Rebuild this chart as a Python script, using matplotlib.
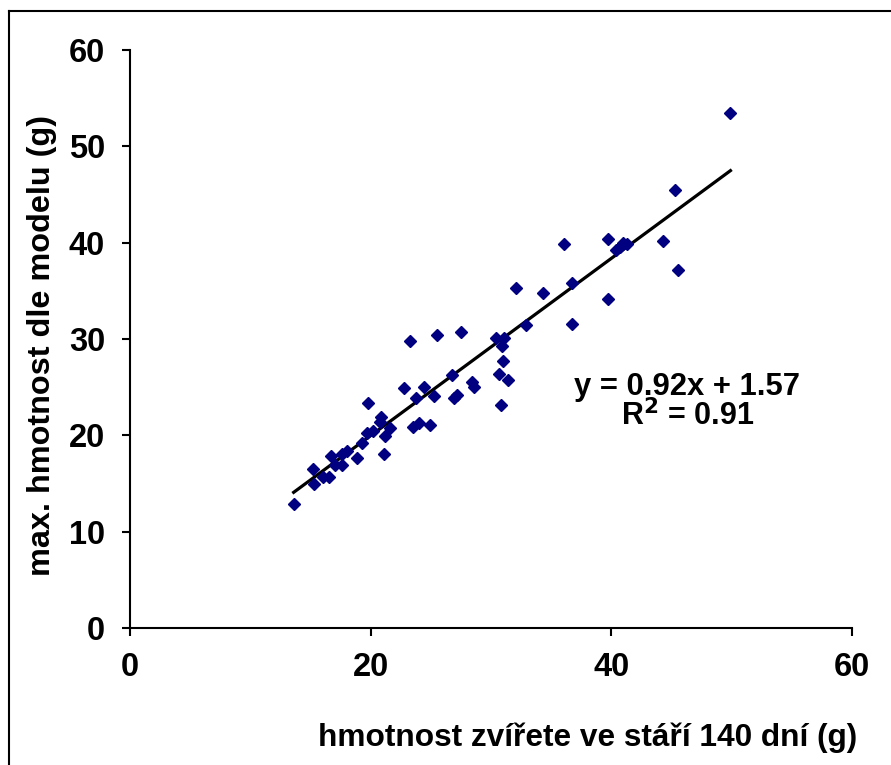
import numpy as np
import matplotlib
matplotlib.use("Agg")
import matplotlib.pyplot as plt
from matplotlib.lines import Line2D

plt.rcParams["font.family"] = ["Liberation Sans", "DejaVu Sans"]
plt.rcParams["font.weight"] = "bold"

# weight at 140 days (x) vs model max weight (y)
weight_140 = [
    13.6, 15.2, 15.3, 16.0, 16.5, 16.7, 17.0, 17.6, 17.6, 18.0,
    18.9, 19.3, 19.7, 20.2, 19.8, 20.9, 20.8, 21.2, 21.6, 21.1,
    22.8, 24.4, 23.8, 25.3, 23.5, 24.0, 24.9, 23.3, 25.5, 27.5,
    26.8, 28.4, 28.6, 26.9, 27.2, 30.4, 31.1, 30.9, 31.0, 30.7,
    31.4, 30.8, 32.9, 32.1, 34.3, 36.1, 36.7, 36.7, 39.7, 39.7,
    40.4, 40.7, 41.0, 41.3, 44.3, 45.5, 45.3, 49.9,
]
model_max = [
    12.9, 16.5, 14.9, 15.7, 15.7, 17.9, 16.9, 18.1, 16.9, 18.4,
    17.6, 19.2, 20.2, 20.4, 23.4, 21.9, 21.4, 19.9, 20.8, 18.1,
    24.9, 25.0, 23.9, 24.1, 20.9, 21.3, 21.1, 29.8, 30.4, 30.7,
    26.3, 25.5, 25.0, 23.9, 24.2, 30.1, 30.1, 29.3, 27.7, 26.4,
    25.7, 23.2, 31.5, 35.3, 34.8, 39.9, 35.8, 31.6, 40.4, 34.2,
    39.2, 39.6, 40.0, 39.9, 40.2, 37.2, 45.5, 53.5,
]

SLOPE = 0.92
INTERCEPT = 1.57
R2 = 0.91

x_ticks = [0, 20, 40, 60]
y_ticks = [0, 10, 20, 30, 40, 50, 60]

fig = plt.figure(figsize=(8.91, 7.65), dpi=100)
ax = fig.add_axes([130 / 891, 1 - 628 / 765, 722 / 891, 578 / 765])

ax.plot(weight_140, model_max, linestyle="none", marker="D",
        markersize=6, color="#000080", zorder=3)

x_fit = np.array([min(weight_140), max(weight_140)])
ax.plot(x_fit, SLOPE * x_fit + INTERCEPT, color="black", linewidth=2.3, zorder=2)

ax.set_xlim(0, 60)
ax.set_ylim(0, 60)
ax.set_xticks(x_ticks)
ax.set_yticks(y_ticks)
ax.tick_params(direction="out", length=6, width=1.5, labelsize=23.5)
ax.tick_params(axis="x", pad=11)
ax.tick_params(axis="y", pad=12)
for lab in ax.get_xticklabels() + ax.get_yticklabels():
    lab.set_fontweight("bold")

for side in ["top", "right"]:
    ax.spines[side].set_visible(False)
for side in ["left", "bottom"]:
    ax.spines[side].set_linewidth(1.5)

ax.text(0.772, 0.417, f"y = {SLOPE:.2f}x + {INTERCEPT:.2f}", transform=ax.transAxes,
        ha="center", va="center", fontsize=22.3, fontweight="bold")
ax.text(0.772, 0.366, f"R$^\\mathbf{{2}}$ = {R2:.2f}", transform=ax.transAxes,
        ha="center", va="center", fontsize=22, fontweight="bold")

fig.text(588 / 891, 1 - 738 / 765, "hmotnost zvířete ve stáří 140 dní (g)",
         ha="center", va="center", fontsize=22.8, fontweight="bold")
fig.text(42 / 891, 1 - 345 / 765, "max. hmotnost dle modelu (g)", rotation=90,
         ha="center", va="center", fontsize=23.3, fontweight="bold")

# outer frame (only left and top visible in the crop)
fig.add_artist(Line2D([9 / 891, 9 / 891], [0, 1 - 11 / 765], color="black",
                      linewidth=1.5, transform=fig.transFigure))
fig.add_artist(Line2D([9 / 891, 1], [1 - 11 / 765, 1 - 11 / 765], color="black",
                      linewidth=1.5, transform=fig.transFigure))

fig.savefig("out.png", dpi=100)
